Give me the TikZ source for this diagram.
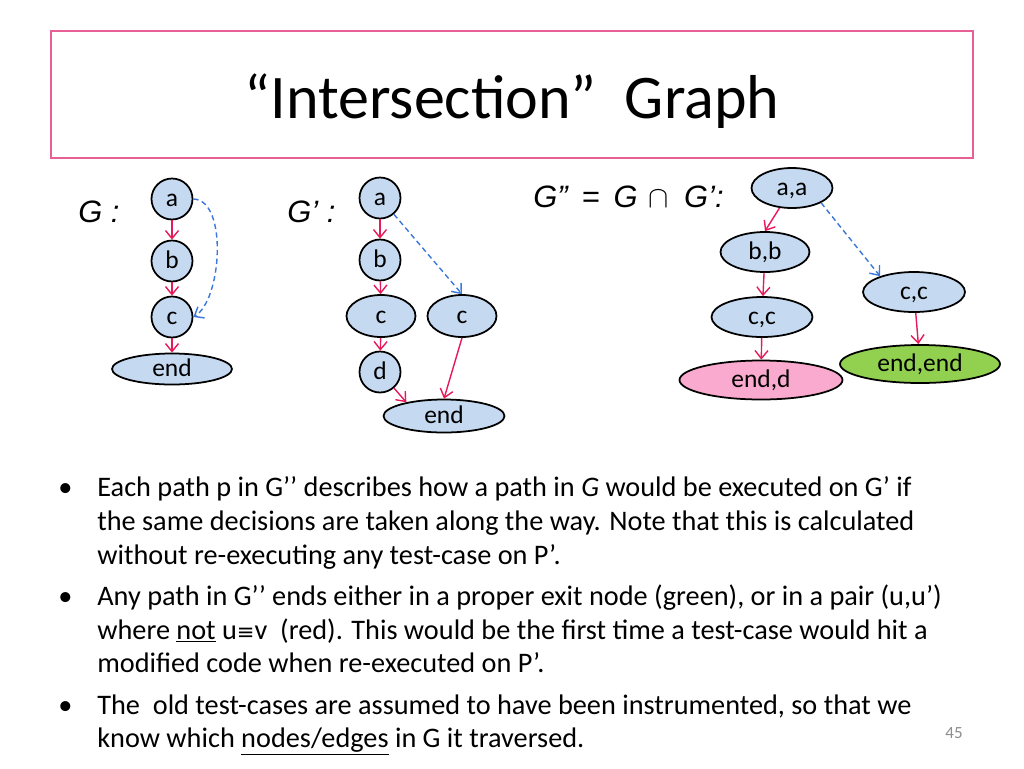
\documentclass[tikz,border=0pt]{standalone}
\usepackage{fontspec}
\setmainfont{Carlito}
\newfontfamily\arialfont{Liberation Sans}
\newfontfamily\symfont{DejaVu Sans}
\usetikzlibrary{shapes.geometric,arrows.meta}
\definecolor{nodeblue}{RGB}{197,217,241}
\definecolor{nodepink}{RGB}{250,170,206}
\definecolor{nodegreen}{RGB}{146,208,80}
\definecolor{flowred}{RGB}{230,25,90}
\definecolor{backblue}{RGB}{60,120,220}
\definecolor{boxpink}{RGB}{230,96,150}
\definecolor{pagegray}{RGB}{140,140,140}

\begin{document}
\begin{tikzpicture}[x=0.02cm, y=-0.02cm,
		vtx/.style={circle, draw, line width=1pt, fill=nodeblue, minimum size=0.82cm, inner sep=0pt, text height=10pt, text depth=1pt, font=\fontsize{14.5}{16}\selectfont},
		oval/.style={ellipse, draw, line width=1pt, fill=nodeblue, inner sep=0pt, text height=10pt, text depth=1pt, font=\fontsize{14.5}{16}\selectfont},
		flow/.style={draw=flowred, line width=0.8pt, -{Straight Barb[length=1.6mm,width=2.6mm]}},
		back/.style={draw=backblue, line width=0.8pt, dash pattern=on 3pt off 2pt, -{Straight Barb[length=1.6mm,width=2.6mm]}},
		glabel/.style={anchor=base west, inner sep=0pt, font=\arialfont\itshape\fontsize{17.6}{20}\selectfont},
		txt/.style={anchor=base west, inner sep=0pt, font=\fontsize{16.1}{19}\selectfont}]
			\useasboundingbox (0,0) rectangle (1024,768);
			% title
			\draw[boxpink, line width=1pt] (51,31) rectangle (973,158);
			\draw (512,118) node [anchor=base, font=\fontsize{35.3}{40}\selectfont] (title) {“Intersection”\ \ Graph};
			% G
			\draw (78,222) node [glabel] (lg) {G :};
			\draw (172,199) node [vtx] (ga) {a};
			\draw (172,261) node [vtx] (gb) {b};
			\draw (172,317) node [vtx] (gc) {c};
			\draw (172,369) node [oval, minimum width=2.4cm, minimum height=0.62cm] (gend) {end};
			\path (ga) edge [flow] (gb)
			(gb) edge [flow] (gc)
			(gc) edge [flow] (gend);
			\draw[back] (ga.east) .. controls (228,200) and (222,300) .. (gc.east);
			% G'
			\draw (287,222) node [glabel] (lgp) {G’ :};
			\draw (380,198) node [vtx] (pa) {a};
			\draw (380,260) node [vtx] (pb) {b};
			\draw (381,316) node [oval, minimum width=1.38cm, minimum height=0.84cm] (pc) {c};
			\draw (462,316) node [oval, minimum width=1.38cm, minimum height=0.84cm] (pc2) {c};
			\draw (380,372) node [vtx] (pd) {d};
			\draw (444,416) node [oval, minimum width=2.42cm, minimum height=0.66cm] (pend) {end};
			\path (pa) edge [flow] (pb)
			(pb) edge [flow] (pc)
			(pc) edge [flow] (pd)
			(pd) edge [flow] (pend.160)
			(pc2.south) edge [flow] (pend.north)
			(pa) edge [back] (pc2.north);
			% G''
			\draw (533,207) node [glabel] (lgi) {G”\hspace{0.45em}=\hspace{0.45em}G\hspace{0.35em}\(\cap\)\hspace{0.5em}G’:};
			\draw (792,188) node [oval, minimum width=1.62cm, minimum height=0.8cm] (ia) {a,a};
			\draw (765,252) node [oval, minimum width=1.78cm, minimum height=0.8cm] (ib) {b,b};
			\draw (762,317) node [oval, minimum width=2.02cm, minimum height=0.8cm] (ic) {c,c};
			\draw (761,380) node [oval, fill=nodepink, minimum width=3.26cm, minimum height=0.78cm] (iendd) {end,d};
			\draw (914,292) node [oval, minimum width=2.04cm, minimum height=0.8cm] (ic2) {c,c};
			\draw (920,364) node [oval, fill=nodegreen, minimum width=3.2cm, minimum height=0.76cm] (iendend) {end,end};
			\path (ia) edge [flow] (ib.north)
			(ib) edge [flow] (ic)
			(ic) edge [flow] (iendd)
			(ic2) edge [flow] (iendend)
			(ia.-27) edge [back] (ic2.155);
			% bullets
			\draw (58,496) node [txt] (b1) {•};
			\draw (58,605) node [txt] (b2) {•};
			\draw (58,714) node [txt] (b3) {•};
			\draw (97,496) node [txt] (l1) {Each path p in G’’ describes how a path in \textit{G} would be executed on G’ if};
			\draw (97,530) node [txt] (l2) {the same decisions are taken along the way. Note that this is calculated};
			\draw (97,564) node [txt] (l3) {without re-executing any test-case on P’.};
			\draw (97,605) node [txt] (l4) {Any path in G’’ ends either in a proper exit node (green), or in a pair (u,u’)};
			\draw (97,639) node [txt] (l5) {where \underline{not} u{\symfont\fontsize{12}{14}\selectfont ≡}v\ \ (red). This would be the first time a test-case would hit a};
			\draw (97,672) node [txt] (l6) {modified code when re-executed on P’.};
			\draw (97,714) node [txt] (l7) {The\ \ old test-cases are assumed to have been instrumented, so that we};
			\draw (97,747) node [txt] (l8) {know which \underline{nodes/edges} in G it traversed.};
			\draw (945,738) node [anchor=base west, inner sep=0pt, text=pagegray, font=\fontsize{9.7}{11}\selectfont] (num) {45};
		\end{tikzpicture}
\end{document}
